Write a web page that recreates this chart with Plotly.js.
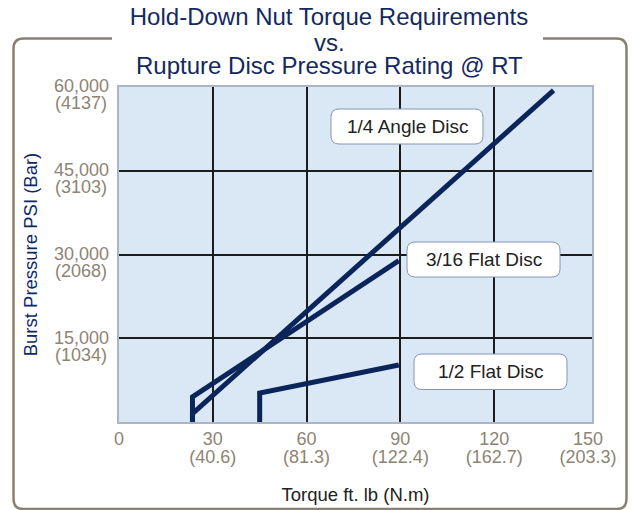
<!DOCTYPE html>
<html>
<head>
<meta charset="utf-8">
<script src="https://cdn.plot.ly/plotly-3.0.1.min.js"></script>
<style>html,body{margin:0;padding:0;background:#fff;}#chart{width:632px;height:510px;}</style>
</head>
<body>
<div id="chart"></div>
<script>
// ---- data ----
var angle14X = [23.5, 23.5, 139];
var angle14Y = [0, 1500, 59400];
var flat316X = [23.5, 23.5, 89.5];
var flat316Y = [0, 4500, 28900];
var flat12X = [45, 45, 89.5];
var flat12Y = [0, 5200, 10200];

var xTickVals = [0, 30, 60, 90, 120, 150];
var xTickText1 = ['0', '30', '60', '90', '120', '150'];
var xTickText2 = ['', '(40.6)', '(81.3)', '(122.4)', '(162.7)', '(203.3)'];
var xGridVals = [30, 60, 90, 120];
var yTickVals = [15000, 30000, 45000, 60000];
var yTickText1 = ['15,000', '30,000', '45,000', '60,000'];
var yTickText2 = ['(1034)', '(2068)', '(3103)', '(4137)'];
var yGridVals = [15000, 30000, 45000];

var seriesNames = ['1/4 Angle Disc', '3/16 Flat Disc', '1/2 Flat Disc'];

// ---- layout constants ----
var W = 632, H = 510, ML = 119, MR = 40, MT = 87, MB = 88;
var PW = W - ML - MR, PH = H - MT - MB;
var xr = [0, 151.3], yr = [0, 60000];
function dX(px) { return xr[0] + (px - ML) / PW * (xr[1] - xr[0]); }
function dY(py) { return yr[0] + (H - MB - py) / PH * (yr[1] - yr[0]); }
function pX(px) { return (px - ML) / PW; }
function pY(py) { return (H - MB - py) / PH; }

function roundRect(x0, y0, x1, y1, r, fx, fy) {
  return 'M' + fx(x0 + r) + ',' + fy(y0) +
    ' L' + fx(x1 - r) + ',' + fy(y0) +
    ' Q' + fx(x1) + ',' + fy(y0) + ' ' + fx(x1) + ',' + fy(y0 + r) +
    ' L' + fx(x1) + ',' + fy(y1 - r) +
    ' Q' + fx(x1) + ',' + fy(y1) + ' ' + fx(x1 - r) + ',' + fy(y1) +
    ' L' + fx(x0 + r) + ',' + fy(y1) +
    ' Q' + fx(x0) + ',' + fy(y1) + ' ' + fx(x0) + ',' + fy(y1 - r) +
    ' L' + fx(x0) + ',' + fy(y0 + r) +
    ' Q' + fx(x0) + ',' + fy(y0) + ' ' + fx(x0 + r) + ',' + fy(y0) + ' Z';
}

// outer frame (open at top for the title)
var fx0 = 13.5, fx1 = 626.5, fy0 = 38.5, fy1 = 509, fr = 10;
var framePath = 'M' + pX(112) + ',' + pY(fy0) +
  ' L' + pX(fx0 + fr) + ',' + pY(fy0) +
  ' Q' + pX(fx0) + ',' + pY(fy0) + ' ' + pX(fx0) + ',' + pY(fy0 + fr) +
  ' L' + pX(fx0) + ',' + pY(fy1 - fr) +
  ' Q' + pX(fx0) + ',' + pY(fy1) + ' ' + pX(fx0 + fr) + ',' + pY(fy1) +
  ' L' + pX(fx1 - fr) + ',' + pY(fy1) +
  ' Q' + pX(fx1) + ',' + pY(fy1) + ' ' + pX(fx1) + ',' + pY(fy1 - fr) +
  ' L' + pX(fx1) + ',' + pY(fy0 + fr) +
  ' Q' + pX(fx1) + ',' + pY(fy0) + ' ' + pX(fx1 - fr) + ',' + pY(fy0) +
  ' L' + pX(543) + ',' + pY(fy0);

var FONT = 'Liberation Sans, Arial, Helvetica, sans-serif';
var navy = '#0b2459';
var tickCol = '#8e8474';
var titleCol = '#14295f';

var boxes = [
  {x0: 331, y0: 109, x1: 483, y1: 144, text: seriesNames[0]},
  {x0: 407, y0: 242, x1: 560, y1: 277, text: seriesNames[1]},
  {x0: 414, y0: 354, x1: 567, y1: 389.5, text: seriesNames[2]}
];

var shapes = [{
  type: 'path', xref: 'paper', yref: 'paper', path: framePath,
  line: {color: '#8b8171', width: 2.5}, layer: 'above'
}];
var annotations = [];
boxes.forEach(function (b) {
  shapes.push({
    type: 'path', xref: 'x', yref: 'y', layer: 'above',
    path: roundRect(b.x0, b.y0, b.x1, b.y1, 8, dX, dY),
    fillcolor: '#ffffff', line: {color: '#8596b2', width: 1}
  });
  annotations.push({
    xref: 'x', yref: 'y', x: dX((b.x0 + b.x1) / 2), y: dY((b.y0 + b.y1) / 2),
    text: b.text, showarrow: false, xanchor: 'center', yanchor: 'middle',
    font: {family: FONT, size: 19, color: '#222222'}
  });
});
annotations.push({
  xref: 'paper', yref: 'paper', x: pX(329), y: pY(42), text: 'vs.',
  showarrow: false, xanchor: 'center', yanchor: 'middle',
  font: {family: FONT, size: 24, color: titleCol}
});
annotations.push({
  xref: 'paper', yref: 'paper', x: pX(329), y: pY(65), text: 'Rupture Disc Pressure Rating @ RT',
  showarrow: false, xanchor: 'center', yanchor: 'middle',
  font: {family: FONT, size: 24, color: titleCol}
});

var lineStyle = {color: navy, width: 5};
var traces = [
  {x: angle14X, y: angle14Y, name: seriesNames[0], mode: 'lines', line: lineStyle, hoverinfo: 'x+y+name'},
  {x: flat316X, y: flat316Y, name: seriesNames[1], mode: 'lines', line: lineStyle, hoverinfo: 'x+y+name'},
  {x: flat12X, y: flat12Y, name: seriesNames[2], mode: 'lines', line: lineStyle, hoverinfo: 'x+y+name'},
  {x: [], y: [], xaxis: 'x2', yaxis: 'y2', showlegend: false, hoverinfo: 'skip'},
  {x: [], y: [], xaxis: 'x3', yaxis: 'y3', showlegend: false, hoverinfo: 'skip'}
];

var tickFont = {family: FONT, size: 18, color: tickCol};
var layout = {
  width: W, height: H,
  margin: {l: ML, r: MR, t: MT, b: MB, pad: 0},
  paper_bgcolor: '#ffffff', plot_bgcolor: '#dae8f5',
  showlegend: false,
  title: {
    text: 'Hold-Down Nut Torque Requirements',
    font: {family: FONT, size: 24, color: titleCol},
    x: 329 / W, xref: 'container', xanchor: 'center',
    y: 1 - 16.5 / H, yref: 'container', yanchor: 'middle'
  },
  xaxis: {
    range: xr, tickmode: 'array', tickvals: xGridVals, showticklabels: false,
    showgrid: true, gridcolor: '#1c1c1c', gridwidth: 2, zeroline: false,
    showline: true, mirror: true, linecolor: '#aab6c6', linewidth: 1.5, ticks: '',
    title: {text: 'Torque ft. lb (N.m)', font: {family: FONT, size: 18.5, color: '#222222'}, standoff: 65}
  },
  xaxis2: {
    overlaying: 'x', anchor: 'y', side: 'bottom', range: xr,
    tickmode: 'array', tickvals: xTickVals, ticktext: xTickText1,
    showgrid: false, zeroline: false, showline: false, ticks: '',
    tickfont: tickFont, ticklabelstandoff: 4
  },
  xaxis3: {
    overlaying: 'x', anchor: 'y', side: 'bottom', range: xr,
    tickmode: 'array', tickvals: xTickVals, ticktext: xTickText2,
    showgrid: false, zeroline: false, showline: false, ticks: '',
    tickfont: tickFont, ticklabelstandoff: 22
  },
  yaxis: {
    range: yr, tickmode: 'array', tickvals: yGridVals, showticklabels: false,
    showgrid: true, gridcolor: '#1c1c1c', gridwidth: 2, zeroline: false,
    showline: true, mirror: true, linecolor: '#aab6c6', linewidth: 1.5, ticks: '',
    title: {text: 'Burst Pressure PSI (Bar)', font: {family: FONT, size: 18.5, color: '#0d2a66'}, standoff: 75}
  },
  yaxis2: {
    overlaying: 'y', anchor: 'x', side: 'left', range: yr,
    tickmode: 'array', tickvals: yTickVals, ticktext: yTickText1,
    showgrid: false, zeroline: false, showline: false, ticks: '',
    tickfont: tickFont, ticklabelstandoff: 9, ticklabelshift: -1
  },
  yaxis3: {
    overlaying: 'y', anchor: 'x', side: 'left', range: yr,
    tickmode: 'array', tickvals: yTickVals, ticktext: yTickText2,
    showgrid: false, zeroline: false, showline: false, ticks: '',
    tickfont: tickFont, ticklabelstandoff: 11, ticklabelshift: 16
  },
  shapes: shapes,
  annotations: annotations
};

Plotly.newPlot('chart', traces, layout, {displayModeBar: false, responsive: false});
</script>
</body>
</html>
